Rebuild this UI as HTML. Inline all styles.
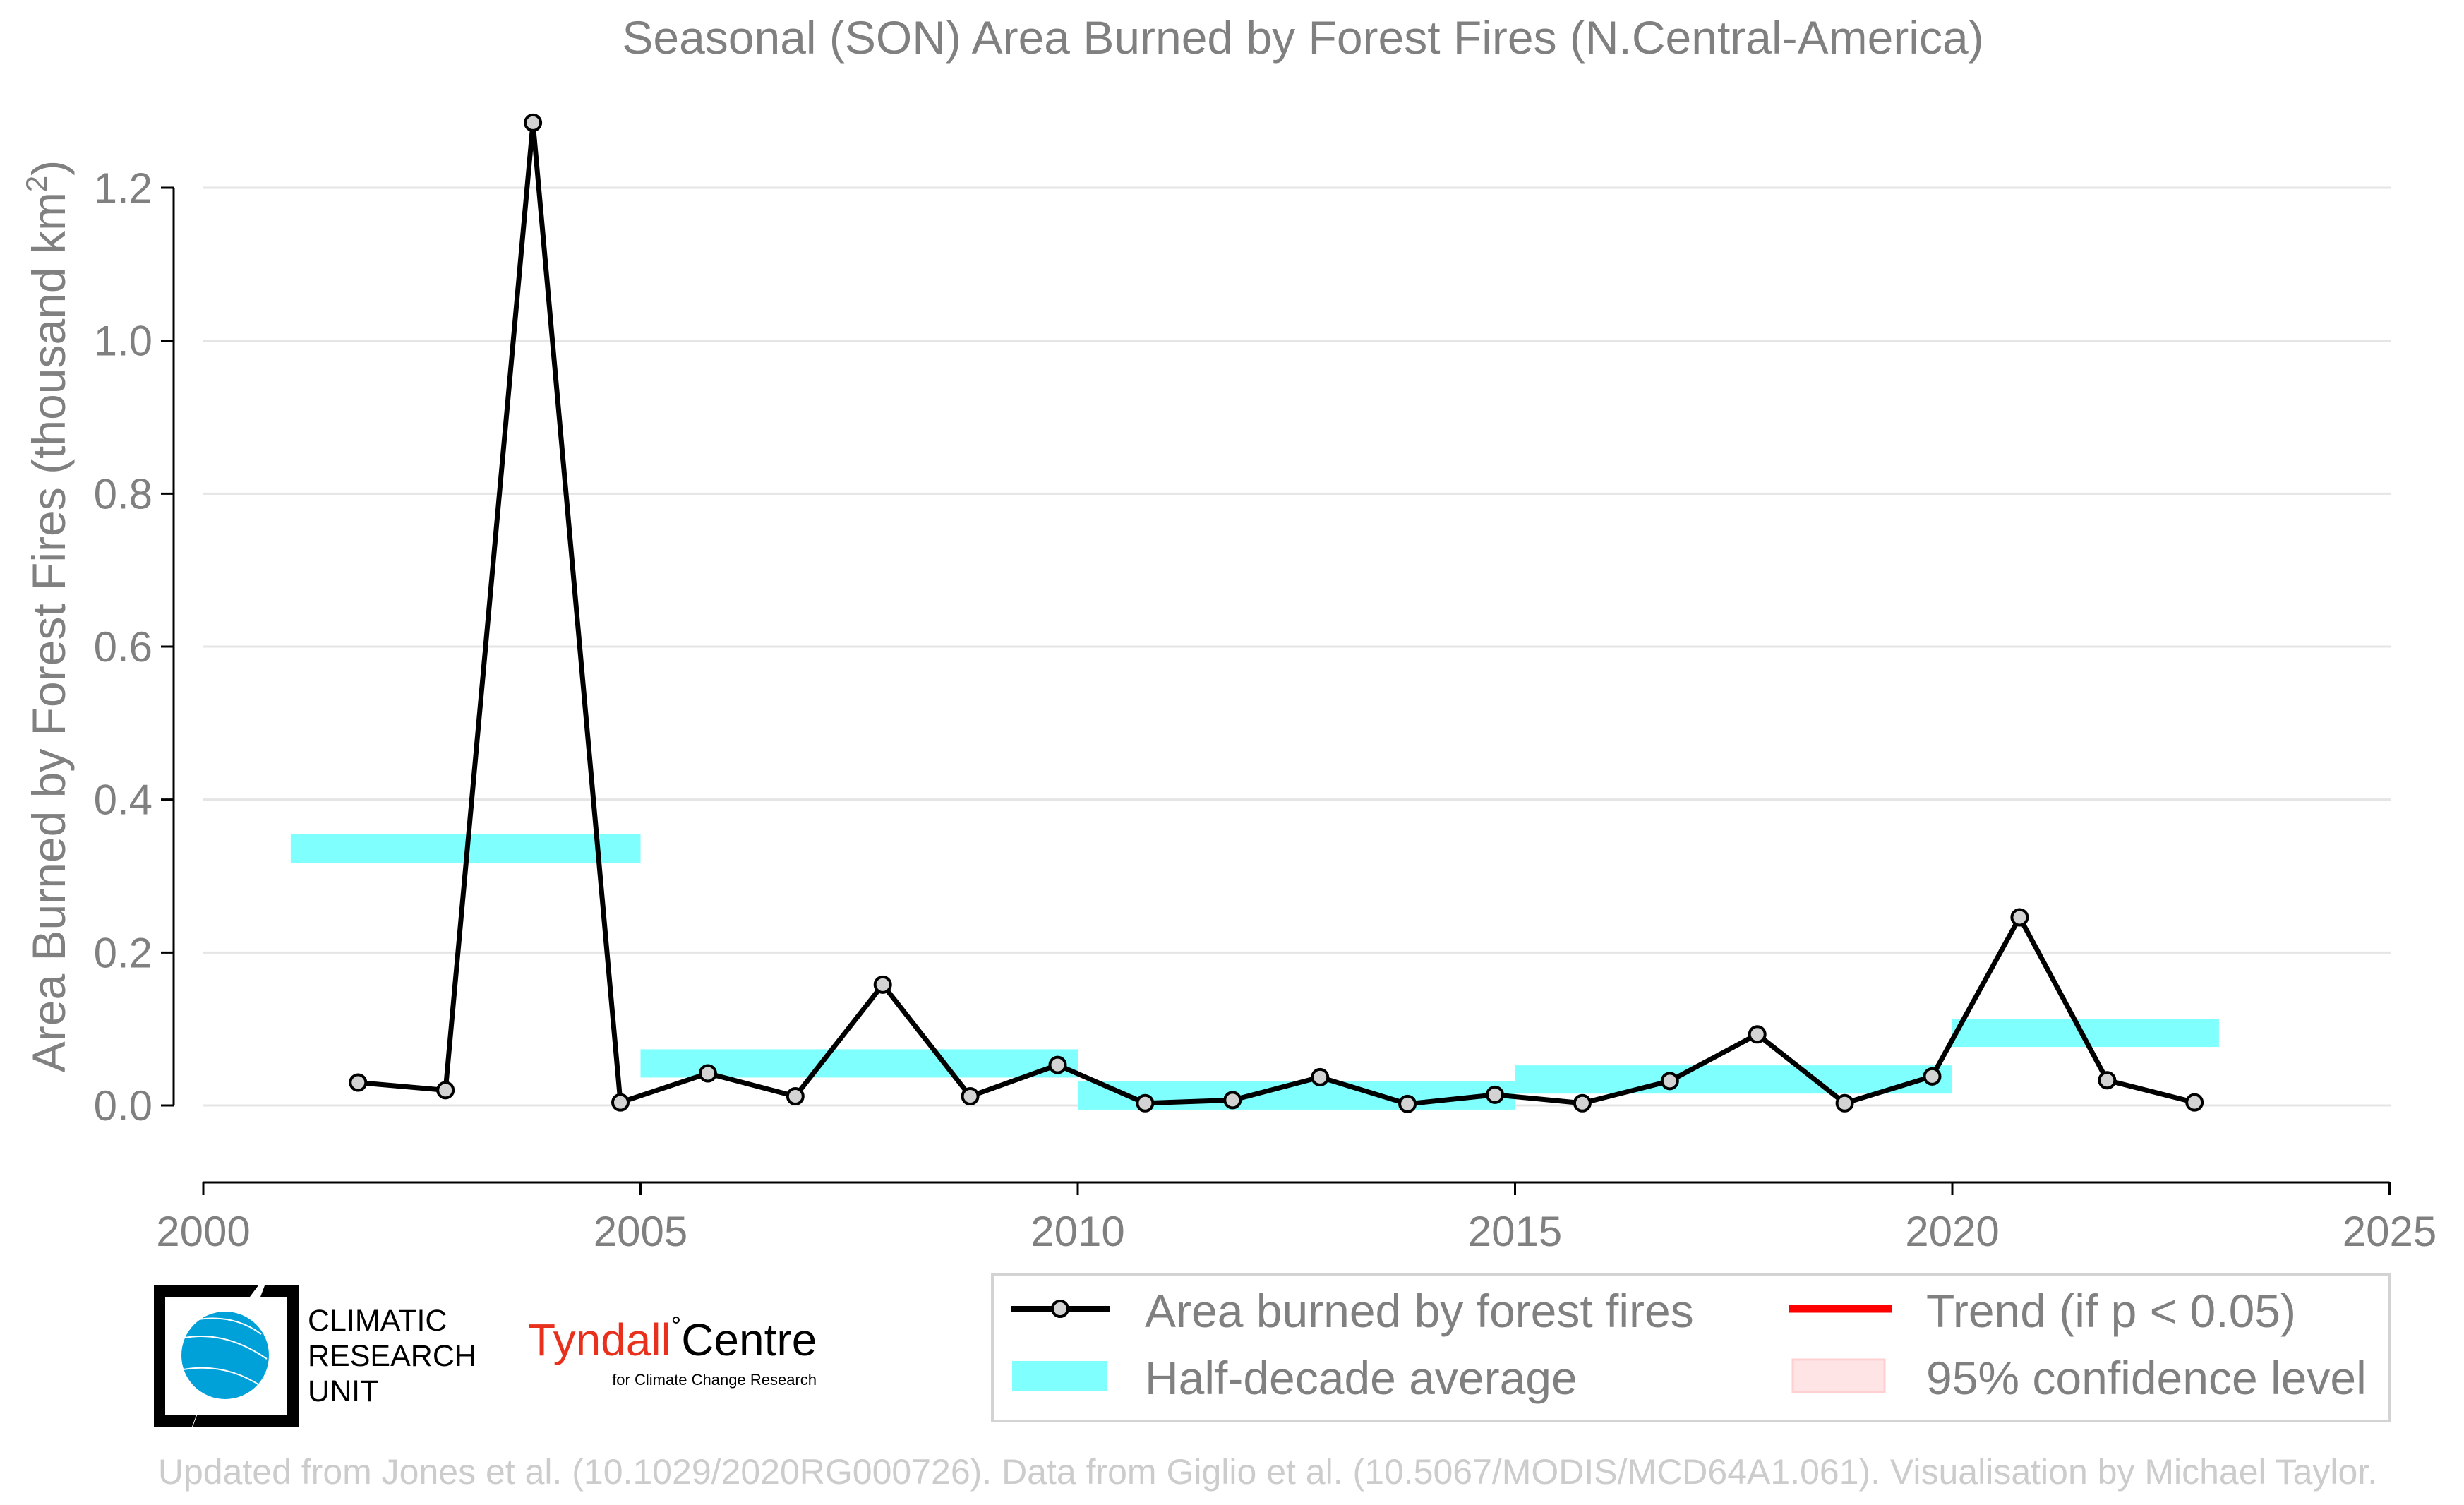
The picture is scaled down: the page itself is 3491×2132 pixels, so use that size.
<!DOCTYPE html>
<html><head><meta charset="utf-8"><style>
html,body{margin:0;padding:0;background:#fff;}
svg{display:block;font-family:"Liberation Sans",sans-serif;}
</style></head><body>
<svg id="chart" width="3491" height="2132" viewBox="0 0 3491 2132" xmlns="http://www.w3.org/2000/svg">
<text x="1846" y="76" text-anchor="middle" font-size="66" fill="#808080">Seasonal (SON) Area Burned by Forest Fires (N.Central-America)</text>
<g id="grid"></g>
<g id="bars"></g>
<g id="series"></g>
<g id="axes"></g>
<text transform="translate(92,873) rotate(-90)" text-anchor="middle" font-size="66" fill="#808080">Area Burned by Forest Fires (thousand km<tspan font-size="42" dy="-26">2</tspan><tspan dy="26">)</tspan></text>

<g>
<rect x="1406" y="1805" width="1979" height="208" fill="#fff" stroke="#d3d3d3" stroke-width="4"/>
<line x1="1432" y1="1854" x2="1572" y2="1854" stroke="#000" stroke-width="8"/>
<circle cx="1502" cy="1854" r="11" fill="#d3d3d3" stroke="#000" stroke-width="4"/>
<text x="1622" y="1880" font-size="66" fill="#808080">Area burned by forest fires</text>
<rect x="1434" y="1928" width="134" height="42" fill="#80ffff"/>
<text x="1622" y="1975" font-size="66" fill="#808080">Half-decade average</text>
<line x1="2534" y1="1854" x2="2680" y2="1854" stroke="#f00" stroke-width="11"/>
<text x="2729" y="1880" font-size="66" fill="#808080">Trend (if p &lt; 0.05)</text>
<rect x="2540" y="1926" width="130" height="46" fill="#ffe4e6" stroke="#ffcfd2" stroke-width="3"/>
<text x="2729" y="1975" font-size="66" fill="#808080">95% confidence level</text>
</g>

<g>
<path d="M218 1821 H366 L354 1837 H234 V2005 H278 L272 2021 H218 Z" fill="#000"/>
<path d="M375 1821 H423 V2021 H273 L279 2005 H407 V1837 H369 Z" fill="#000"/>
<ellipse cx="319" cy="1920" rx="62" ry="62" fill="#00a0d8"/>
<path d="M262 1895 Q320 1885 378 1925 M260 1940 Q320 1930 372 1965 M275 1870 Q330 1860 370 1890" stroke="#fff" stroke-width="2" fill="none"/>
<text x="436" y="1885" font-size="43" fill="#000">CLIMATIC</text>
<text x="436" y="1935" font-size="43" fill="#000">RESEARCH</text>
<text x="436" y="1985" font-size="43" fill="#000">UNIT</text>
</g>
<g>
<text x="748" y="1920" font-size="64" fill="#e8301c">Tyndall<tspan fill="#000" font-size="36" dy="-30">°</tspan><tspan fill="#000" dy="30">Centre</tspan></text>
<text x="1157" y="1962" text-anchor="end" font-size="22" fill="#000">for Climate Change Research</text>
</g>
<text x="1796" y="2102" text-anchor="middle" font-size="50" fill="#cccccc">Updated from Jones et al. (10.1029/2020RG000726). Data from Giglio et al. (10.5067/MODIS/MCD64A1.061). Visualisation by Michael Taylor.</text>
</svg>
<script>
const years = [2002,2003,2004,2005,2006,2007,2008,2009,2010,2011,2012,2013,2014,2015,2016,2017,2018,2019,2020,2021,2022,2023];
const burned = [0.030,0.020,1.285,0.004,0.042,0.012,0.158,0.012,0.053,0.003,0.007,0.037,0.002,0.014,0.003,0.032,0.093,0.003,0.038,0.246,0.033,0.004];
const halfStart = [2001,2005,2010,2015,2020];
const halfEnd = [2005,2010,2015,2020,2023];
const halfAvg = [0.336,0.055,0.013,0.034,0.095];
const yTicks = [0.0,0.2,0.4,0.6,0.8,1.0,1.2];
const xTicks = [2000,2005,2010,2015,2020,2025];

const NS='http://www.w3.org/2000/svg';
const X = v => 288 + (v-2000)*123.9;
const Y = v => 1566 - v*(1300/1.2);
function mk(tag, attrs, parent){const e=document.createElementNS(NS,tag);for(const k in attrs)e.setAttribute(k,attrs[k]);document.getElementById(parent).appendChild(e);return e;}

yTicks.forEach(t=>{
  const g=mk('line',{x1:288,x2:3388,y1:Y(t),y2:Y(t),stroke:'#e5e5e5','stroke-width':3},'grid');
  
  
  const tk=mk('line',{x1:228,x2:246,y1:Y(t),y2:Y(t),stroke:'#000','stroke-width':3},'axes');
  
  
  const lb=mk('text',{x:216,y:Y(t)+21,'text-anchor':'end','font-size':60,fill:'#808080'},'axes');
  lb.textContent=t.toFixed(1);
  
  
});
const ya=mk('line',{x1:246,x2:246,y1:Y(1.2),y2:Y(0),stroke:'#000','stroke-width':3},'axes');


const xa=mk('line',{x1:X(2000),x2:X(2025),y1:1675,y2:1675,stroke:'#000','stroke-width':3},'axes');


xTicks.forEach(t=>{
  const tk=mk('line',{x1:X(t),x2:X(t),y1:1675,y2:1693,stroke:'#000','stroke-width':3},'axes');
  
  
  const lb=mk('text',{x:X(t),y:1765,'text-anchor':'middle','font-size':60,fill:'#808080'},'axes');
  lb.textContent=t;
  
  
});
halfAvg.forEach((v,i)=>{
  const r=mk('rect',{x:X(halfStart[i]),width:X(halfEnd[i]+(i===4?0.05:0))-X(halfStart[i]),y:Y(v)-20,height:40,fill:'#80ffff'},'bars');
  
  
});
const pts=years.map((y,i)=>(X(y-0.23))+','+Y(burned[i])).join(' ');
const pl=mk('polyline',{points:pts,fill:'none',stroke:'#000','stroke-width':7,'stroke-linejoin':'round'},'series');


years.forEach((y,i)=>{
  const c=mk('circle',{cx:X(y-0.23),cy:Y(burned[i]),r:11,fill:'#d3d3d3',stroke:'#000','stroke-width':4},'series');
  
  
});
</script>
</body></html>
